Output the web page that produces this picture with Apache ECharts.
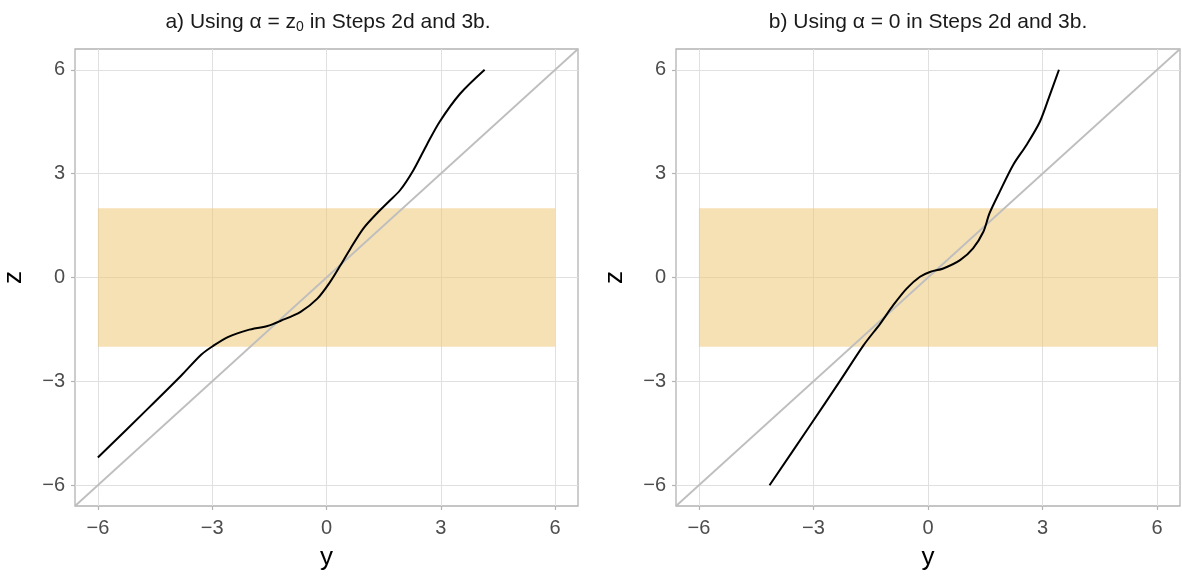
<!DOCTYPE html>
<html>
<head>
<meta charset="utf-8">
<script src="https://cdn.jsdelivr.net/npm/echarts@6/dist/echarts.min.js"></script>
<style>
html, body { margin: 0; padding: 0; background: #fff; }
#main { width: 1182px; height: 576px; }
</style>
</head>
<body>
<div id="main"></div>
<script>
// tick values shared by both axes of both panels
var tickValues = [-6, -3, 0, 3, 6];
var axisRange = [-6.6, 6.6];

// shaded band: y from -6 to 6, z from -2 to 2
var bandX = [-6, 6];
var bandZ = [-2, 2];

// identity line y = z
var identityLine = [[-6.6, -6.6], [6.6, 6.6]];

// panel a) alpha = z0
var curveA = [
    [-6, -5.2], [-4.68, -3.78], [-3.81, -2.83], [-3.29, -2.23], [-2.98, -1.98],
    [-2.59, -1.72], [-2.07, -1.52], [-1.55, -1.40], [-1.20, -1.25], [-0.68, -0.99],
    [-0.24, -0.61], [0.10, -0.12], [0.37, 0.36], [0.63, 0.84], [0.97, 1.42],
    [1.32, 1.85], [1.63, 2.19], [1.93, 2.52], [2.28, 3.10], [2.63, 3.83],
    [2.97, 4.50], [3.50, 5.30], [4.15, 6.0]
];

// panel b) alpha = 0
var curveB = [
    [-4.15, -6.0], [-3.08, -4.26], [-2.30, -2.98], [-1.69, -1.96], [-1.25, -1.33],
    [-0.91, -0.80], [-0.56, -0.32], [-0.21, 0.02], [0.05, 0.16], [0.40, 0.26],
    [0.84, 0.50], [1.18, 0.84], [1.45, 1.32], [1.61, 1.85], [1.88, 2.48],
    [2.23, 3.25], [2.58, 3.83], [2.93, 4.50], [3.19, 5.27], [3.43, 6.0]
];

var FONT = '"Liberation Sans", Arial, Helvetica, sans-serif';

function fmt(v) {
    return v < 0 ? '\u2212' + Math.abs(v) : String(v);
}

function makeX(gi) {
    return {
        type: 'value', gridIndex: gi, min: axisRange[0], max: axisRange[1],
        name: 'y', nameLocation: 'middle', nameGap: 39,
        nameTextStyle: { fontSize: 26, color: '#000', fontFamily: FONT },
        axisLine: { show: false, onZero: false },
        axisTick: { show: true, length: 4, lineStyle: { color: '#b3b3b3', width: 1.2 }, customValues: tickValues },
        axisLabel: { fontSize: 20, color: '#4d4d4d', fontFamily: FONT, margin: 12, formatter: fmt, customValues: tickValues },
        splitLine: { show: true, lineStyle: { color: '#e0e0e0', width: 1 } }
    };
}

function makeY(gi) {
    return {
        type: 'value', gridIndex: gi, min: axisRange[0], max: axisRange[1],
        name: 'z', nameLocation: 'middle', nameGap: 48, nameRotate: 90,
        nameTextStyle: { fontSize: 26, color: '#000', fontFamily: FONT },
        axisLine: { show: false, onZero: false },
        axisTick: { show: true, length: 4, lineStyle: { color: '#b3b3b3', width: 1.2 }, customValues: tickValues },
        axisLabel: { fontSize: 20, color: '#4d4d4d', fontFamily: FONT, margin: 10, formatter: fmt, customValues: tickValues },
        splitLine: { show: true, lineStyle: { color: '#e0e0e0', width: 1 } }
    };
}

function panelSeries(gi, curve) {
    return [
        {
            type: 'line', xAxisIndex: gi, yAxisIndex: gi, data: [], silent: true,
            markArea: {
                silent: true,
                itemStyle: { color: 'rgba(238,200,120,0.55)' },
                data: [[{ xAxis: bandX[0], yAxis: bandZ[0] }, { xAxis: bandX[1], yAxis: bandZ[1] }]]
            }
        },
        {
            type: 'line', xAxisIndex: gi, yAxisIndex: gi, data: identityLine,
            symbol: 'none', silent: true,
            lineStyle: { color: '#bebebe', width: 1.8 }
        },
        {
            type: 'line', xAxisIndex: gi, yAxisIndex: gi, data: curve,
            symbol: 'none', smooth: 0.3, silent: true,
            lineStyle: { color: '#000', width: 2 }
        }
    ];
}

var chart = echarts.init(document.getElementById('main'));
chart.setOption({
    animation: false,
    backgroundColor: '#fff',
    textStyle: { fontFamily: FONT },
    grid: [
        { left: 74, right: 604, top: 49, bottom: 68, show: true, borderColor: '#b3b3b3', borderWidth: 1.3, containLabel: false },
        { left: 676, right: 2, top: 49, bottom: 68, show: true, borderColor: '#b3b3b3', borderWidth: 1.3, containLabel: false }
    ],
    xAxis: [makeX(0), makeX(1)],
    yAxis: [makeY(0), makeY(1)],
    graphic: [
        {
            type: 'text', x: 328, y: 22,
            style: {
                text: '{t|a) Using \u03b1 = z}{s|0}{t| in Steps 2d and 3b.}',
                align: 'center', verticalAlign: 'middle',
                rich: {
                    t: { fontSize: 21, fill: '#1a1a1a', fontFamily: FONT },
                    s: { fontSize: 14, fill: '#1a1a1a', fontFamily: FONT, padding: [11, 0, 0, 0] }
                }
            }
        },
        {
            type: 'text', x: 928, y: 22,
            style: {
                text: 'b) Using \u03b1 = 0 in Steps 2d and 3b.',
                align: 'center', verticalAlign: 'middle',
                fontSize: 21, fill: '#1a1a1a', fontFamily: FONT
            }
        }
    ],
    series: panelSeries(0, curveA).concat(panelSeries(1, curveB))
});
</script>
</body>
</html>
